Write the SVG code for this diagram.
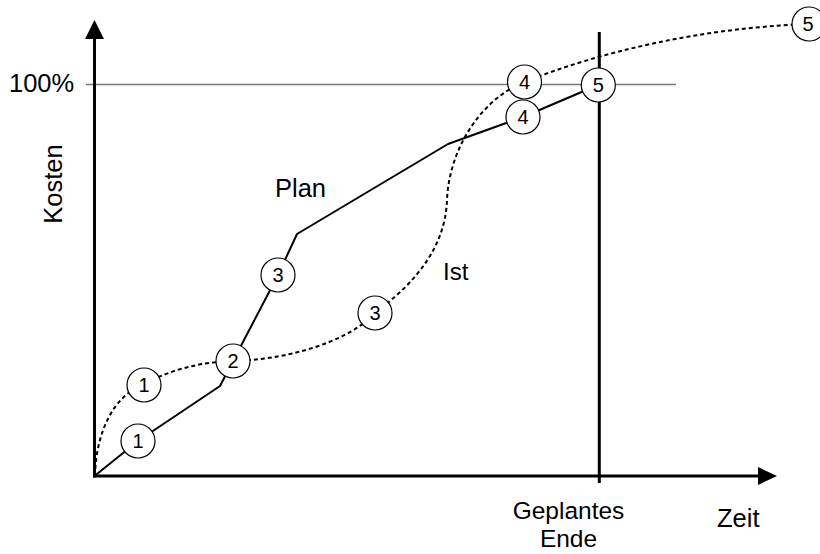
<svg xmlns="http://www.w3.org/2000/svg" width="820" height="554" viewBox="0 0 820 554">
<style>
  .lbl { font-family: "Liberation Sans", Arial, sans-serif; font-size: 25.5px; fill: #000; }
  .num { font-family: "Liberation Sans", Arial, sans-serif; font-size: 20px; fill: #000; text-anchor: middle; }
  .node circle { fill: #fff; stroke: #000; stroke-width: 1.2; }
  .axis { stroke: #000; stroke-width: 3; fill: none; }
  .plan { stroke: #000; stroke-width: 2; fill: none; stroke-linejoin: round; }
  .ist { stroke: #000; stroke-width: 2; fill: none; stroke-dasharray: 4 3; }
</style>
<rect width="820" height="554" fill="#fff"/>
<g id="axes">
  <line x1="86" y1="84.5" x2="676" y2="84.5" stroke="#777" stroke-width="1.3"/>
  <line class="axis" x1="94.5" y1="477.5" x2="94.5" y2="36"/>
  <polygon points="94.5,20 85,39 104,39" fill="#000"/>
  <line class="axis" x1="93" y1="476" x2="760" y2="476"/>
  <polygon points="777,476 758,467 758,485" fill="#000"/>
  <line class="axis" x1="599.3" y1="32" x2="599.3" y2="483"/>
</g>
<g id="connectors">
  <polyline class="plan" points="94.5,476 138,441 220,386 233,361 278,275 297,234 448,144 523,117 598,85"/>
  <path class="ist" d="M95,476 C96,430 115,395 144,384 C170,370 200,362 233,361 C280,360 345,345 375,313 C405,290 445,255 447,200 C449,150 480,100 524,82 C600,52 700,28 809,24"/>
</g>
<g id="labels">
  <text class="lbl" x="9" y="92">100%</text>
  <text class="lbl" transform="translate(62,184) rotate(-90)" text-anchor="middle">Kosten</text>
  <text class="lbl" x="275" y="197">Plan</text>
  <text class="lbl" x="443" y="280" style="font-size:24px">Ist</text>
  <text class="lbl" x="568.5" y="519" text-anchor="middle" style="font-size:24.5px">Geplantes</text>
  <text class="lbl" x="568.5" y="547" text-anchor="middle" style="font-size:24.5px">Ende</text>
  <text class="lbl" x="717" y="527">Zeit</text>
</g>
<g id="plan1" class="node"><circle cx="138" cy="441" r="17"/><text class="num" x="138" y="448">1</text></g>
<g id="ist1" class="node"><circle cx="144" cy="385" r="17"/><text class="num" x="144" y="392">1</text></g>
<g id="n2" class="node"><circle cx="233" cy="361" r="17"/><text class="num" x="233" y="368">2</text></g>
<g id="plan3" class="node"><circle cx="278" cy="275" r="17"/><text class="num" x="278" y="282">3</text></g>
<g id="ist3" class="node"><circle cx="375" cy="313" r="17"/><text class="num" x="375" y="320">3</text></g>
<g id="ist4" class="node"><circle cx="524.5" cy="82" r="17"/><text class="num" x="524.5" y="89">4</text></g>
<g id="plan4" class="node"><circle cx="523" cy="117" r="17"/><text class="num" x="523" y="124">4</text></g>
<g id="n5" class="node"><circle cx="598.3" cy="85" r="17"/><text class="num" x="598.3" y="92">5</text></g>
<g id="ist5" class="node"><circle cx="809" cy="24" r="17"/><text class="num" x="808" y="31">5</text></g>
</svg>
